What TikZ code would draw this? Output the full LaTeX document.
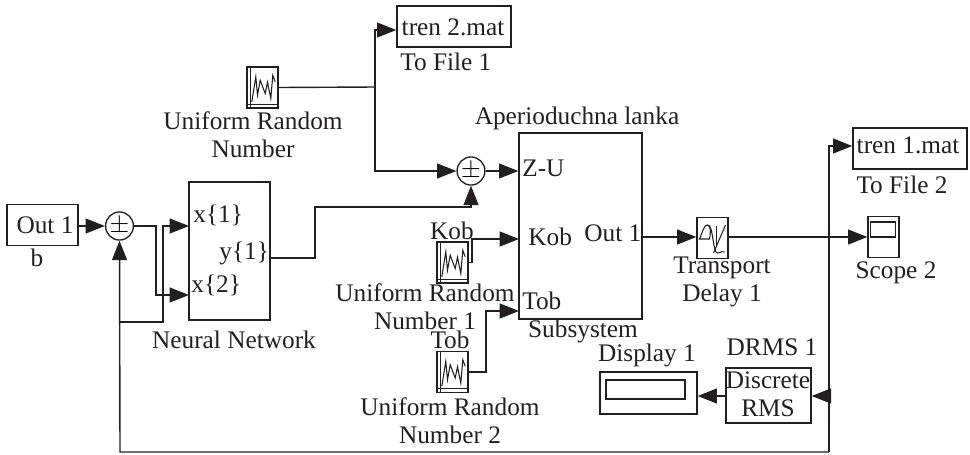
\documentclass[tikz,border=0pt]{standalone}
\usepackage{fontspec}
\setmainfont{Liberation Serif}
\usetikzlibrary{shapes,arrows.meta,positioning}
\definecolor{ink}{RGB}{35,31,32}
\tikzstyle{block}=[rectangle, draw=ink, line width=0.75pt, inner sep=0pt]
\tikzstyle{sumb}=[ellipse, draw=ink, line width=0.75pt, inner sep=0pt, minimum width=13.2pt, minimum height=16pt, font=\fontsize{14}{14}\selectfont]
\tikzstyle{txt}=[text=ink, inner sep=0pt, align=center, font=\fontsize{14.4}{15.8}\selectfont]
\tikzstyle{txtl}=[txt, anchor=west]
\tikzstyle{wire}=[draw=ink, line width=0.8pt]
\tikzstyle{arr}=[wire, -{Triangle[length=11pt,width=8.5pt]}]
\tikzstyle{thinl}=[ink, line width=0.6pt]
\newcommand{\noiseicon}[1]{%
\draw[thinl] ([xshift=2.6pt]#1.north west) -- ([xshift=2.6pt]#1.south west);
\draw[thinl] ([yshift=2.6pt]#1.south west) -- ([yshift=2.6pt]#1.south east);
\draw[thinl, shift={(#1.center)}] (-10.7,14.3) -- (-6.7,-10.7) -- (-5,7.7) -- (-2.3,-7.3) -- (2.7,6) -- (5,-5.3) -- (8.3,11) -- (10.3,-12.3) -- (12.7,-5.7);
}
\begin{document}
\begin{tikzpicture}[x=0.02cm,y=-0.02cm]
\useasboundingbox (0,0) rectangle (970,454);
%Blocks
\node[block, minimum width=40.4pt, minimum height=23.3pt](out1) at (42.5,225){};
\node[sumb](sum1) at (119.5,226){$\pm$};
\node[block, minimum width=46.1pt, minimum height=78.5pt](nn) at (229.5,251){};
\node[block, minimum width=17.6pt, minimum height=23.3pt](rand1) at (262.5,87.5){};
\node[block, minimum width=64.9pt, minimum height=23.3pt](file1) at (454,26.5){};
\node[sumb](sum2) at (471,171){$\pm$};
\node[block, minimum width=70pt, minimum height=105.9pt](subs) at (580.5,226){};
\node[block, minimum width=17.6pt, minimum height=23.3pt](rand2) at (452.5,262.5){};
\node[block, minimum width=17.6pt, minimum height=23.3pt](rand3) at (452.5,372){};
\node[block, minimum width=17.6pt, minimum height=23.3pt](delay) at (712.5,238){};
\node[block, minimum width=17.6pt, minimum height=23.3pt](scope) at (883.5,237){};
\node[block, minimum width=64.9pt, minimum height=23.3pt](file2) at (910,148.5){};
\node[block, minimum width=48.4pt, minimum height=31.3pt](rms) at (768.5,395.5){};
\node[block, minimum width=55.2pt, minimum height=23.9pt](disp) at (648.5,393){};
%Inner parts
\node[block, minimum width=14.2pt, minimum height=8.5pt](screen) at (883,229.5){};
\node[block, minimum width=45pt, minimum height=10.8pt](dispin) at (645.5,389.5){};
\noiseicon{rand1}
\noiseicon{rand2}
\noiseicon{rand3}
\draw[thinl, shift={(delay.center)}] (-13,1) .. controls (-10,-6) and (-8,-14) .. (-5,-13) .. controls (-1,-12) and (-2,-4) .. (-3,1) -- cycle;
\draw[thinl, shift={(delay.center)}] (-5,-13) .. controls (1,-14) and (0,15) .. (5,15) .. controls (9,15) and (9,12) .. (12,14);
\draw[thinl, shift={(delay.center)}] (13,-13) -- (1,15);
\draw[thinl, shift={(delay.center)}] (4,-12) -- (4,8);
%Labels
\node[txt](out1t) at (45,225){Out 1};
\node[txt](bt) at (37,258){b};
\node[txt](nnt) at (234,340){Neural Network};
\node[txtl](x1t) at (193,215){x\{1\}};
\node[txtl](y1t) at (219,253){y\{1\}};
\node[txtl](x2t) at (191,285){x\{2\}};
\node[txt](file1in) at (453,27){tren 2.mat};
\node[txtl](file1t) at (400,62){To File 1};
\node[txt](rand1t) at (253,135){Uniform Random\\Number};
\node[txt](subst) at (577,118){Aperioduchna lanka};
\node[txtl](zut) at (522,168){Z-U};
\node[txtl](kobin) at (528,237){Kob};
\node[txtl](outin) at (584,233){Out 1};
\node[txtl](tobin) at (522,301){Tob};
\node[txt](subsb) at (583,331){Subsystem};
\node[txt](kobt) at (452,231){Kob};
\node[txt](rand2t) at (425,306.5){Uniform Random\\Number 1};
\node[txt](tobt) at (450,340){Tob};
\node[txt](rand3t) at (450,420.5){Uniform Random\\Number 2};
\node[txt](dispt) at (647,355){Display 1};
\node[txt](rmst) at (772,347){DRMS 1};
\node[txt](rmsin) at (768,394.5){Discrete\\RMS};
\node[txt](delayt) at (722,282){Transport\\Delay 1};
\node[txt](scopet) at (896,273){Scope 2};
\node[txt](file2in) at (908,145){tren 1.mat};
\node[txt](file2t) at (902,185){To File 2};
%Ports and bends
\coordinate (nnin1) at (189,226);
\coordinate (nnin2) at (189,295);
\coordinate (nnout) at (270,258);
\coordinate (subsin2) at (519,239);
\coordinate (subsin3) at (519,311);
\coordinate (fork1) at (375,87);
\coordinate (fork2) at (120,322);
\coordinate (fork3) at (829,396);
\coordinate (fork4) at (829,237);
\coordinate (corner) at (829,452);
%Arrows
\draw[arr] (out1.east |- sum1) -- (sum1);
\draw[arr] (sum1.east) -- (156,226) -- (156,295) -- (nnin2);
\draw[arr] (fork2) -- (163,322) -- (163,226) -- (nnin1);
\draw[arr] (nnout) -- (315,258) -- (315,207) -- (471,207) -- (sum2.south);
\draw[wire] (rand1.east) -- (fork1);
\draw[arr] (fork1) -- (375,30) -- (file1.west |- 0,30);
\draw[arr] (fork1) -- (375,171) -- (sum2.west);
\draw[arr] (sum2.east) -- (subs.west |- sum2);
\draw[arr] (rand2.east) -- (472,262.5) -- (472,239) -- (subsin2);
\draw[arr] (rand3.east) -- (486,372) -- (486,311) -- (subsin3);
\draw[arr] (subs.east |- fork4) -- (delay.west |- fork4);
\draw[arr] (delay.east |- fork4) -- (scope.west |- fork4);
\draw[arr] (corner) -- (120,452) -- (sum1.south);
\draw[arr] (corner) -- (829,146) -- (file2.west |- 0,146);
\draw[arr] (fork3) -- (rms.east |- fork3);
\draw[arr] (rms.west |- fork3) -- (disp.east |- fork3);
\end{tikzpicture}
\end{document}
